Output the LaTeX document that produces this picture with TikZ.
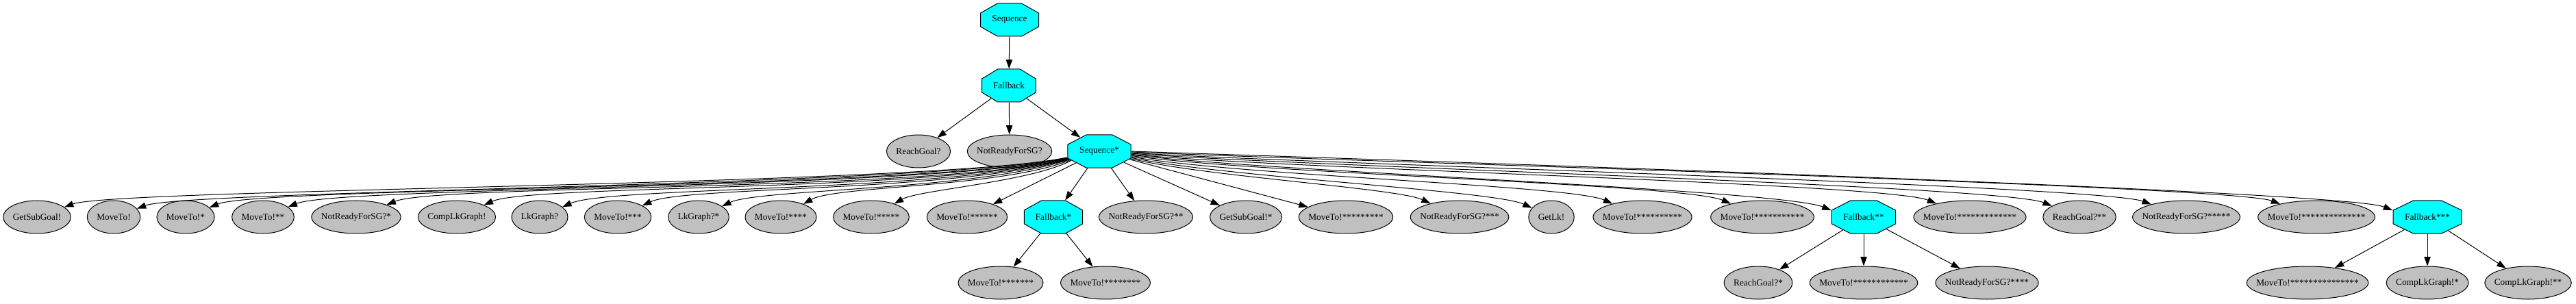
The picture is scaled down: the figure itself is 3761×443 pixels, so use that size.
\documentclass[tikz,border=0pt]{standalone}
\usepackage{fontspec}
\setmainfont{Liberation Serif}
\usetikzlibrary{arrows.meta,shapes.geometric}
\definecolor{ctrlcyan}{RGB}{0,255,255}
\definecolor{leafgray}{RGB}{192,192,192}
\tikzset{
  leaf/.style={ellipse, draw, fill=leafgray, line width=0.75pt, inner sep=0pt,
    minimum height=36pt, minimum width={width("#1")+21pt},
    node contents={\makebox[0pt]{#1}}},
  ctrl/.style={regular polygon, regular polygon sides=8, draw, fill=ctrlcyan,
    line width=0.75pt, inner sep=0pt, minimum size=38.97pt, xscale=#1},
  link/.style={-{Triangle[length=10pt,width=7pt]}, line width=0.75pt}
}

\begin{document}
\begin{tikzpicture}[x=0.75pt, y=0.75pt]
    \useasboundingbox (0,0) rectangle (3761,443);
    % control nodes
    \node[ctrl=1.77] (seq0) at (1474,414) {};
    \node[ctrl=1.64] (fb0) at (1473,318) {};
    \node[ctrl=1.92] (seq1) at (1605,222) {};
    \node[ctrl=1.78] (fb1) at (1538,126) {};
    \node[ctrl=1.94] (fb2) at (2721,126) {};
    \node[ctrl=2.08] (fb3) at (3544,126) {};
    \node (seq0t) at (seq0) {Sequence};
    \node (fb0t) at (fb0) {Fallback};
    \node (seq1t) at (seq1) {Sequence*};
    \node (fb1t) at (fb1) {Fallback*};
    \node (fb2t) at (fb2) {Fallback**};
    \node (fb3t) at (fb3) {Fallback***};
    % row 3
    \node (rg0) at (1341,222) [leaf=ReachGoal?];
    \node (nr0) at (1474,222) [leaf=NotReadyForSG?];
    % row 4
    \node (gsg0) at (54,126) [leaf=GetSubGoal!];
    \node (mv0) at (166,126) [leaf=MoveTo!];
    \node (mv1) at (271,126) [leaf=MoveTo!*];
    \node (mv2) at (384,126) [leaf=MoveTo!**];
    \node (nr1) at (520,126) [leaf=NotReadyForSG?*];
    \node (clg0) at (667,126) [leaf=CompLkGraph!];
    \node (lkg0) at (788,126) [leaf=LkGraph?];
    \node (mv3) at (902,126) [leaf=MoveTo!***];
    \node (lkg1) at (1020,126) [leaf=LkGraph?*];
    \node (mv4) at (1140,126) [leaf=MoveTo!****];
    \node (mv5) at (1272,126) [leaf=MoveTo!*****];
    \node (mv6) at (1412,126) [leaf=MoveTo!******];
    \node (nr2) at (1673,126) [leaf=NotReadyForSG?**];
    \node (gsg1) at (1819,126) [leaf=GetSubGoal!*];
    \node (mv9) at (1965,126) [leaf=MoveTo!*********];
    \node (nr3) at (2131,126) [leaf=NotReadyForSG?***];
    \node (glk) at (2265,126) [leaf=GetLk!];
    \node (mv10) at (2398,126) [leaf=MoveTo!**********];
    \node (mv11) at (2573,126) [leaf=MoveTo!***********];
    \node (mv13) at (2876,126) [leaf=MoveTo!*************];
    \node (rg2) at (3036,126) [leaf=ReachGoal?**];
    \node (nr5) at (3192,126) [leaf=NotReadyForSG?*****];
    \node (mv14) at (3382,126) [leaf=MoveTo!**************];
    % row 5
    \node (mv7) at (1461,30) [leaf=MoveTo!*******];
    \node (mv8) at (1614,30) [leaf=MoveTo!********];
    \node (rg1) at (2567,30) [leaf=ReachGoal?*];
    \node (mv12) at (2721,30) [leaf=MoveTo!************];
    \node (nr4) at (2901,30) [leaf=NotReadyForSG?****];
    \node (mv15) at (3369,30) [leaf=MoveTo!***************];
    \node (clg1) at (3544,30) [leaf=CompLkGraph!*];
    \node (clg2) at (3691,30) [leaf=CompLkGraph!**];

    % edges
    \draw[link] (seq0) -- (fb0);
    \draw[link] (fb0) -- (rg0);
    \draw[link] (fb0) -- (nr0);
    \draw[link] (fb0) -- (seq1);
    % long ones to the left
    \draw[link] (seq1.200) .. controls +(192:150pt) and +(20:60pt) .. (gsg0.20);
    \draw[link] (seq1.201) .. controls +(192:150pt) and +(20:60pt) .. (mv0.20);
    \draw[link] (seq1.202) .. controls +(193:150pt) and +(22:60pt) .. (mv1.22);
    \draw[link] (seq1.203) .. controls +(193:150pt) and +(22:60pt) .. (mv2.22);
    \draw[link] (seq1.204) .. controls +(194:150pt) and +(22:60pt) .. (nr1.22);
    \draw[link] (seq1.205) .. controls +(194:150pt) and +(24:55pt) .. (clg0.24);
    \draw[link] (seq1.206) .. controls +(195:140pt) and +(24:55pt) .. (lkg0.24);
    \draw[link] (seq1.207) .. controls +(196:130pt) and +(25:50pt) .. (mv3.25);
    \draw[link] (seq1.208) .. controls +(198:110pt) and +(25:45pt) .. (lkg1.25);
    \draw[link] (seq1.210) .. controls +(202:80pt) and +(30:40pt) .. (mv4.30);
    \draw[link] (seq1.212) .. controls +(208:50pt) and +(30:30pt) .. (mv5.30);
    \draw[link] (seq1) -- (mv6);
    \draw[link] (seq1) -- (fb1);
    \draw[link] (seq1) -- (nr2);
    \draw[link] (seq1) -- (gsg1);
    \draw[link] (seq1) -- (mv9);
    % long ones to the right
    \draw[link] (seq1.-24) .. controls +(-14:80pt) and +(155:40pt) .. (nr3.155);
    \draw[link] (seq1.-21) .. controls +(-12:100pt) and +(155:45pt) .. (glk.155);
    \draw[link] (seq1.-18) .. controls +(-10:120pt) and +(156:50pt) .. (mv10.156);
    \draw[link] (seq1.-15) .. controls +(-8:140pt) and +(157:55pt) .. (mv11.157);
    \draw[link] (seq1.-12) .. controls +(-7:150pt) and +(158:60pt) .. (fb2.158);
    \draw[link] (seq1.-10) .. controls +(-6:150pt) and +(158:60pt) .. (mv13.158);
    \draw[link] (seq1.-7) .. controls +(-5:150pt) and +(158:60pt) .. (rg2.158);
    \draw[link] (seq1.-5) .. controls +(-4:150pt) and +(160:60pt) .. (nr5.160);
    \draw[link] (seq1.-2) .. controls +(-3:150pt) and +(160:60pt) .. (mv14.160);
    \draw[link] (seq1.0) .. controls +(-2:150pt) and +(158:60pt) .. (fb3.158);
    \draw[link] (fb1) -- (mv7);
    \draw[link] (fb1) -- (mv8);
    \draw[link] (fb2) -- (rg1);
    \draw[link] (fb2) -- (mv12);
    \draw[link] (fb2) -- (nr4);
    \draw[link] (fb3) -- (mv15);
    \draw[link] (fb3) -- (clg1);
    \draw[link] (fb3) -- (clg2);
\end{tikzpicture}
\end{document}
